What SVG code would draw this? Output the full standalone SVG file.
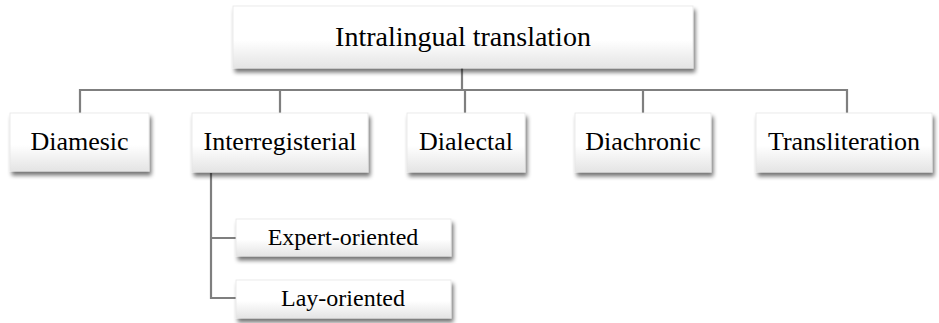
<svg xmlns="http://www.w3.org/2000/svg" width="939" height="323" viewBox="0 0 939 323">
<defs>
<linearGradient id="g" x1="0" y1="0" x2="0" y2="1">
<stop offset="0" stop-color="#ffffff"/>
<stop offset="0.55" stop-color="#ffffff"/>
<stop offset="1" stop-color="#e4e4e4"/>
</linearGradient>
<filter id="sh" x="-10%" y="-20%" width="125%" height="160%">
<feGaussianBlur in="SourceAlpha" stdDeviation="2.2"/>
<feOffset dx="2" dy="4" result="b"/>
<feComponentTransfer><feFuncA type="linear" slope="0.55"/></feComponentTransfer>
<feMerge><feMergeNode/><feMergeNode in="SourceGraphic"/></feMerge>
</filter>
<style>
.box{fill:url(#g);stroke:#e6e6e6;stroke-width:0.8;filter:url(#sh)}
.t{font-family:'Liberation Serif','Times New Roman','DejaVu Serif',serif;fill:#000;text-anchor:middle}
.l1{font-size:28px}.l2{font-size:26px}.l3{font-size:24px}
.c{fill:none;stroke:#7f7f7f;stroke-width:2.2}
</style>
</defs>
<rect width="939" height="323" fill="#fff"/>
<g id="connectors">
<path class="c" d="M462 68V90M80 113V90H847V113M280 90V113M465 90V113M643 90V113"/>
<path class="c" d="M211 173V298H236M211 238H236"/>
</g>
<g id="root"><rect class="box" x="233" y="6" width="460" height="62"/><text class="t l1" x="463" y="46" font-family="Liberation Serif, serif">Intralingual translation</text></g>
<g id="diamesic"><rect class="box" x="10" y="113" width="139" height="58"/><text class="t l2" x="79.5" y="150">Diamesic</text></g>
<g id="interregisterial"><rect class="box" x="192" y="113" width="176" height="59"/><text class="t l2" x="280" y="150">Interregisterial</text></g>
<g id="dialectal"><rect class="box" x="407" y="113" width="118" height="59"/><text class="t l2" x="466" y="150">Dialectal</text></g>
<g id="diachronic"><rect class="box" x="575" y="113" width="136" height="59"/><text class="t l2" x="643" y="150">Diachronic</text></g>
<g id="transliteration"><rect class="box" x="756" y="113" width="176" height="59"/><text class="t l2" x="844" y="150">Transliteration</text></g>
<g id="expert"><rect class="box" x="236" y="219" width="215" height="37"/><text class="t l3" x="343" y="245">Expert-oriented</text></g>
<g id="lay"><rect class="box" x="236" y="280" width="215" height="38"/><text class="t l3" x="343" y="306">Lay-oriented</text></g>
</svg>
